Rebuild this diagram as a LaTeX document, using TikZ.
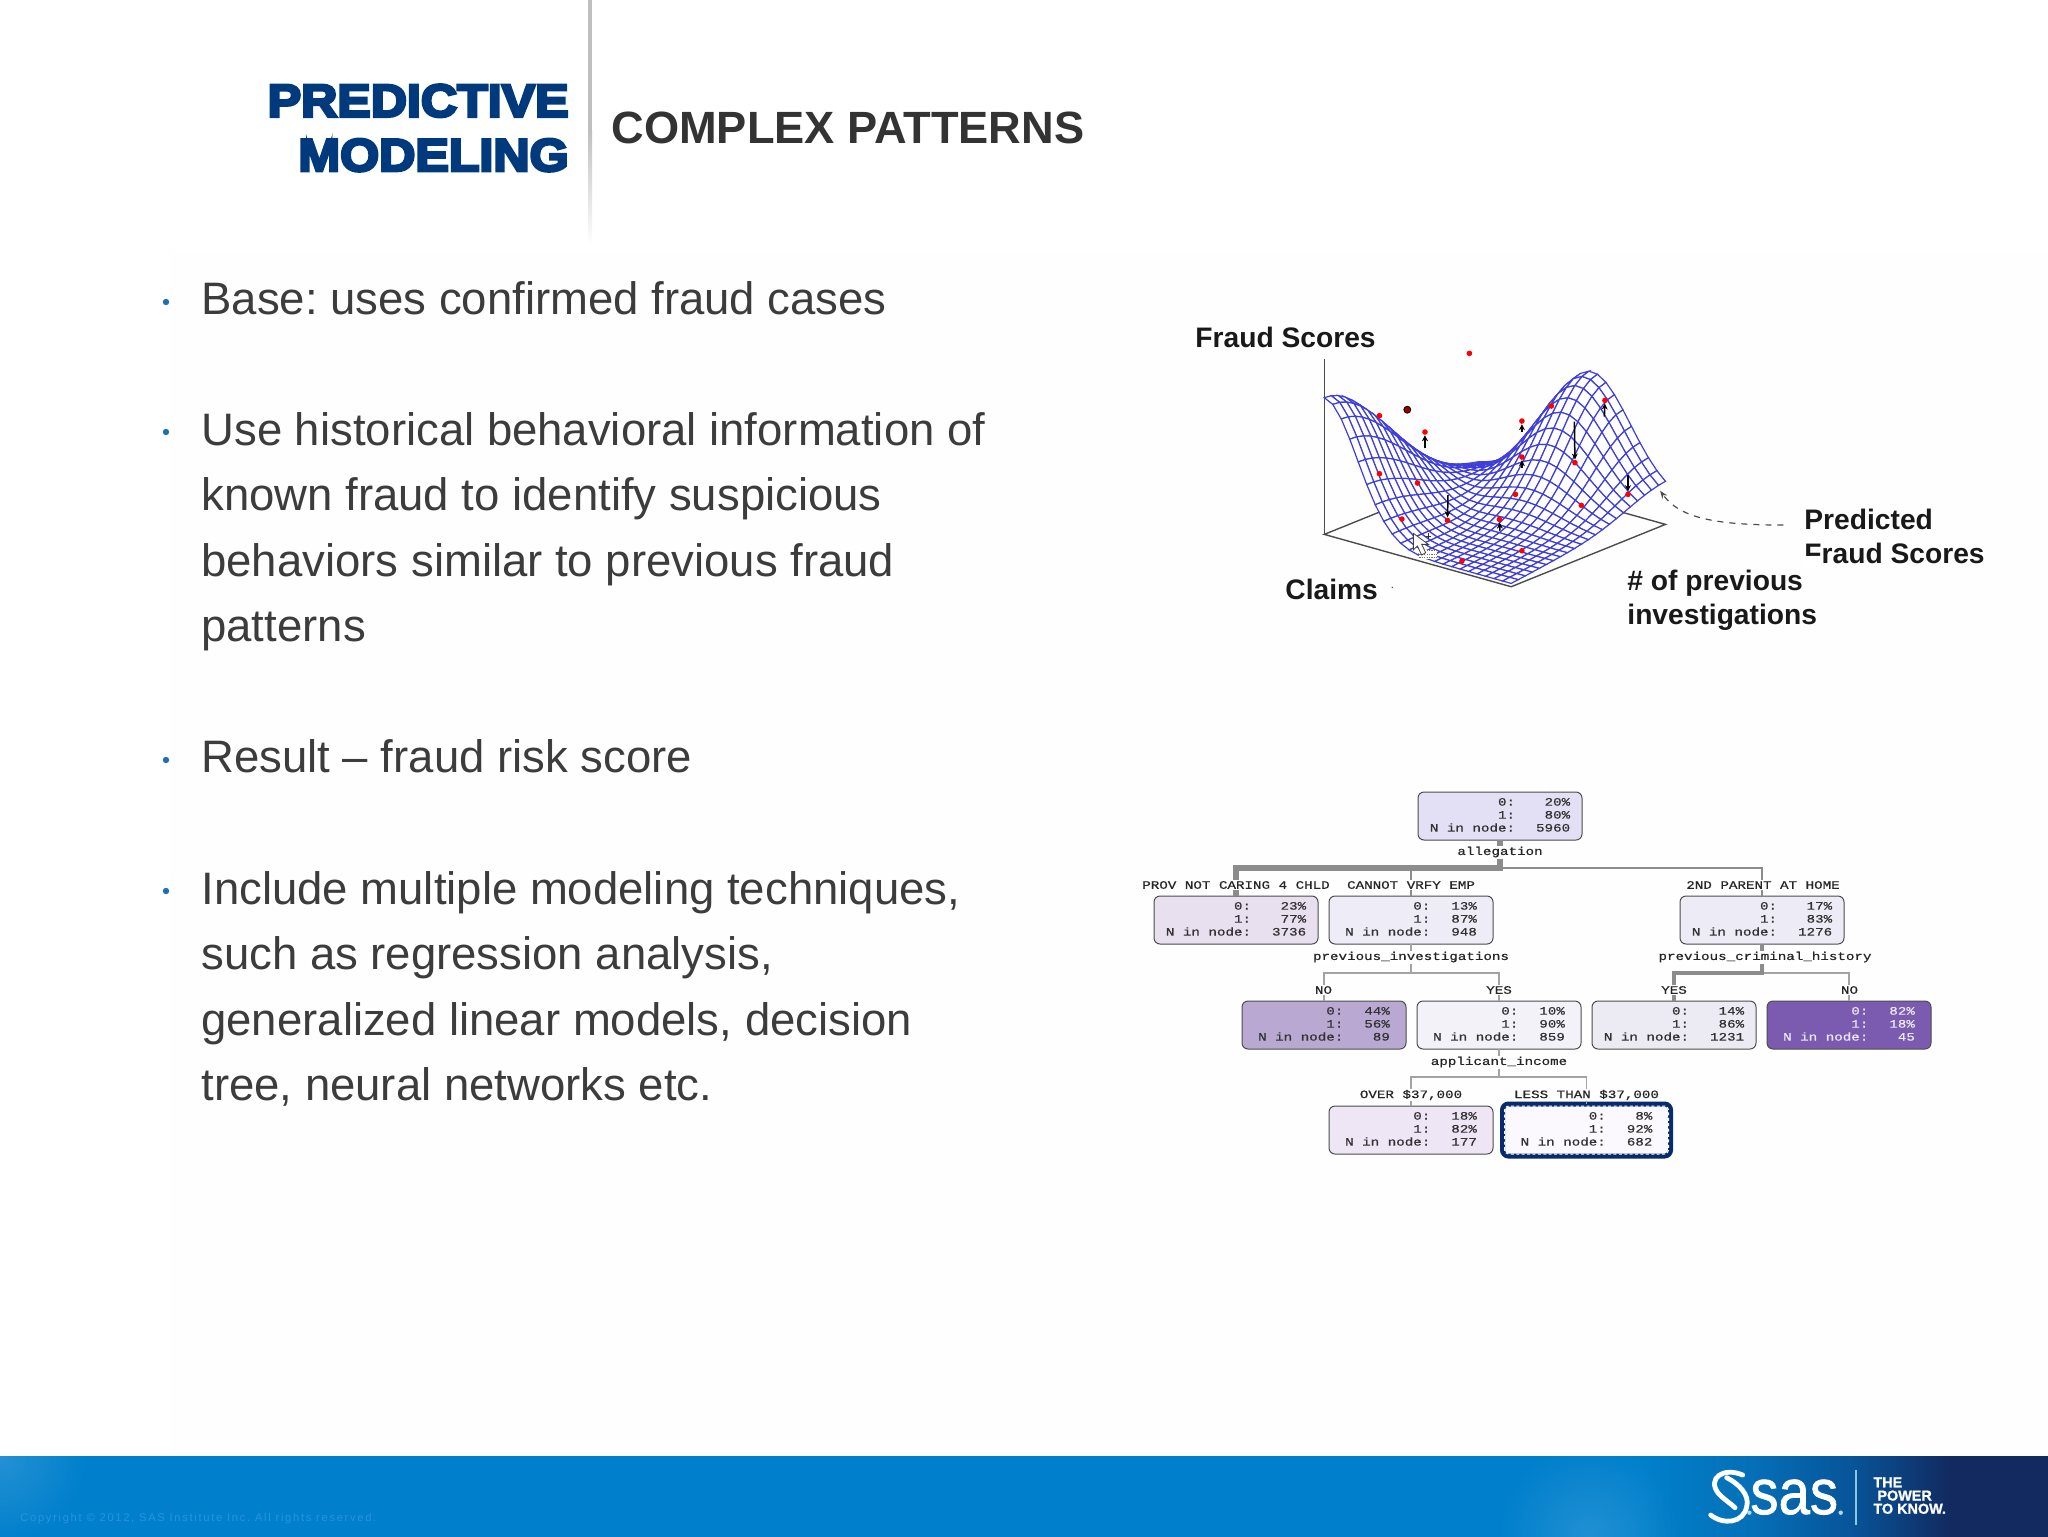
\documentclass[tikz,border=0pt]{standalone}
\usepackage{fontspec}
\usepackage{graphicx}
\setmainfont{Liberation Sans}
\setmonofont[FakeBold=0.5]{Liberation Mono}
\newfontfamily\headfont[UprightFont=* Bold,FakeBold=6,FakeStretch=1.09]{Liberation Sans}
\newfontfamily\tagfont[UprightFont=* Bold,FakeBold=1.2]{Liberation Sans}
\newfontfamily\logofont[FakeBold=1.2]{Liberation Sans}
\newfontfamily\copyfont[LetterSpace=15]{Liberation Sans}
\usetikzlibrary{calc,arrows.meta,positioning,fadings}
\definecolor{navytitle}{HTML}{003A7D}
\definecolor{bodygrey}{HTML}{3C3C3C}
\definecolor{bulletblue}{HTML}{1F6FB5}
\definecolor{meshblue}{HTML}{3E3EDC}
\definecolor{baseblue}{HTML}{0080CC}
\definecolor{midblue}{HTML}{0570B8}
\definecolor{deepblue}{HTML}{07559A}
\definecolor{darkblue}{HTML}{122A60}
\definecolor{edgegrey}{HTML}{8C8C8C}
\definecolor{copyblue}{HTML}{2A92DE}
\definecolor{lessnavy}{HTML}{0A2A6E}
\definecolor{rootfill}{HTML}{E3DFF4}
\definecolor{provfill}{HTML}{E8DFEF}
\definecolor{vrfyfill}{HTML}{EEEDF7}
\definecolor{parentfill}{HTML}{EDECF6}
\definecolor{nofill}{HTML}{B9A9D2}
\definecolor{yesfill}{HTML}{F3F2F9}
\definecolor{yeshistfill}{HTML}{ECEBF4}
\definecolor{nohistfill}{HTML}{7B5BB0}
\definecolor{overfill}{HTML}{EEE5F5}
\definecolor{lessfill}{HTML}{FBF9FE}
\pgfdeclarehorizontalshading{footerbar}{100bp}{color(0bp)=(baseblue); color(65bp)=(baseblue); color(67.7bp)=(midblue); color(70.15bp)=(deepblue); color(72.6bp)=(darkblue); color(100bp)=(darkblue)}
\tikzfading[name=glowfade, inner color=transparent!0, outer color=transparent!100]
\newcommand{\nodestats}[3]{\scalebox{1}[.8]{\begin{tabular}{@{}r@{\hspace{10.5pt}}r@{}}0: & #1\\ 1: & #2\\ N in node: & #3\end{tabular}}}
\newcommand{\edgetext}[1]{\scalebox{1}[.8]{#1}}
\frenchspacing
\begin{document}
\begin{tikzpicture}[
		x=0.5pt, y=-0.5pt,
		every node/.style={font=\fontsize{22.75}{32.75}\selectfont},
		bodytext/.style={anchor=north west, inner sep=0pt, align=left, text=bodygrey},
		bulletdot/.style={circle, fill=bulletblue, inner sep=0pt, minimum size=3.2pt},
		axislabel/.style={font=\fontsize{14.1}{17}\selectfont\bfseries, anchor=west, inner sep=0pt, align=left, text=black!90},
		leafbox/.style={rectangle, rounded corners=3pt, minimum width=82pt, minimum height=24pt, inner sep=0pt, outer sep=0pt, draw=black!70, line width=0.5pt, font=\fontsize{7.1}{8.1}\selectfont\ttfamily, text=black!80},
		edgelabel/.style={font=\fontsize{7.1}{9}\selectfont\ttfamily, fill=white, inner sep=0.6pt, text=black!85},
		edgethin/.style={draw=edgegrey!80, line width=0.6pt},
		edgemid/.style={draw=edgegrey, line width=1.1pt},
		edgethick/.style={draw=edgegrey, line width=2.8pt},
		reddot/.style={circle, fill=red, inner sep=0pt, minimum size=2.8pt},
		errarrow/.style={-{Stealth[length=3pt,width=3pt]}, line width=0.75pt, black}
	]
	\useasboundingbox (0,0) rectangle (2048,1536);
	\fill[white] (0,0) rectangle (2048,1536);
	\fill[black!0.5] (170,250) rectangle (2048,1456);

	% Header
	\fill[black!25] (588,0) rectangle (592,130);
	\shade[top color=black!25, bottom color=white] (588,130) rectangle (592,245);
	\node (predictive) [anchor=east, inner sep=0pt, align=right, text=navytitle, font=\fontsize{23}{27.2}\selectfont\headfont] at (569,128) {PREDICTIVE\\MODELING};
	\node (complex) [anchor=west, inner sep=0pt, text=black!80, font=\fontsize{22.6}{26}\selectfont\bfseries] at (611,128) {COMPLEX PATTERNS};

	% Bullets
	\node (dotbase) [bulletdot] at (166,302) {};
	\node (dotuse) [bulletdot] at (166,432) {};
	\node (dotresult) [bulletdot] at (166,760) {};
	\node (dotinclude) [bulletdot] at (166,891) {};
	\node (base) [bodytext] at (201,281) {Base: uses confirmed fraud cases};
	\node (history) [bodytext] at (201,412) {Use historical behavioral information of\\known fraud to identify suspicious\\behaviors similar to previous fraud\\patterns};
	\node (result) [bodytext] at (201,739) {Result -- fraud risk score};
	\node (include) [bodytext] at (201,871) {Include multiple modeling techniques,\\such as regression analysis,\\generalized linear models, decision\\tree, neural networks etc.};

	% Surface plot
	\begin{scope}[shift={(1170,300)}, x=0.2678pt, y=-0.1667pt]
		\coordinate (axistop) at (288,178);
		\coordinate (cornerL) at (288,703);
		\coordinate (cornerF) at (637,860);
		\coordinate (cornerR) at (925,673);
		\coordinate (cornerB) at (576,516);
		\draw[black!70, line width=0.7pt] (axistop) -- (cornerL);
		\draw[black!70, line width=0.7pt] (cornerL) -- (cornerF) -- (cornerR) -- (cornerB) -- cycle;
		\foreach \i in {0,...,22} {
			\foreach \j in {0,...,22} {
				\pgfmathsetmacro{\u}{\i/22}
				\pgfmathsetmacro{\v}{\j/22}
				\pgfmathsetmacro{\hgt}{10+60*\u*\v+400*exp(-(\u/0.25)^2-(\v/0.55)^2)+350*exp(-((\u-0.6)/0.3)^2-((\v-1)/0.35)^2)}
				\coordinate (m-\i-\j) at ({288+349*\u+288*\v},{703+157*\u-187*\v-\hgt});
			}
		}
		\foreach \i [evaluate=\i as \ii using int(\i+1)] in {0,...,21} {
			\foreach \j [evaluate=\j as \jj using int(\j-1)] in {22,21,...,1} {
				\draw[meshblue, fill=white, line width=0.6pt] (m-\i-\j) -- (m-\ii-\j) -- (m-\ii-\jj) -- (m-\i-\jj) -- cycle;
			}
		}
		% Observed points
		\foreach \px/\py [count=\n] in {559/160,391/347,476/396,657/363,712/318,812/301,657/471,756/488,391/521,462/549,645/583,768/616,855/583,433/657,518/661,615/658,657/752,545/783} {
			\node (obs\n) [reddot] at (\px,\py) {};
		}
		\node (darkobs) [circle, fill=red!60!black, draw=black, line width=0.4pt, inner sep=0pt, minimum size=3.5pt] at (443,329) {};
		% Residual arrows
		\coordinate (tailA) at (476,445); \draw[errarrow] (tailA) -- (obs3);
		\coordinate (tailB) at (657,397); \draw[errarrow] (tailB) -- (obs4);
		\coordinate (tailC) at (657,505); \draw[errarrow] (tailC) -- (obs7);
		\coordinate (tailD) at (755,365); \draw[errarrow] (tailD) -- (obs8);
		\coordinate (tailE) at (811,350); \draw[errarrow] (tailE) -- (obs6);
		\coordinate (tailF) at (855,525); \draw[errarrow] (tailF) -- (obs13);
		\coordinate (tailG) at (519,585); \draw[errarrow] (tailG) -- (obs15);
		\coordinate (tailH) at (616,692); \draw[errarrow] (tailH) -- (obs16);
		% Predicted pointer
		\coordinate (predtail) at (1145,675);
		\coordinate (predtip) at (915,572);
		\draw[black!70, dashed, line width=0.6pt, -{Stealth[length=4pt,width=3pt]}] (predtail) .. controls (1010,675) and (950,650) .. (predtip);
		\fill[black!70] (415,862) circle (0.4pt);
	\end{scope}

	% Cursor
	\begin{scope}[shift={(1360,500)}, x=0.1667pt, y=-0.1667pt]
		\fill[white] (178,150) rectangle (232,178);
		\draw[black!55, line width=0.5pt, dash pattern=on 0.6pt off 0.6pt] (178,152) -- (232,152) (178,162) -- (232,162) (178,172) -- (232,172);
		\draw[fill=white, draw=black!75, line width=0.4pt] (160,100) -- (160,150) -- (172,138) -- (185,165) -- (197,158) -- (185,133) -- (205,133) -- cycle;
		\draw[black!80, line width=0.4pt] (197,108) -- (213,108) (205,100) -- (205,116);
	\end{scope}

	\node (fraudscores) [axislabel] at (1195,337) {Fraud Scores};
	\node (claims) [axislabel] at (1285,589) {Claims};
	\node (investigations) [axislabel] at (1627,600) {\# of previous\\investigations};
	\node (predicted) [axislabel] at (1804,536) {Predicted\\Fraud Scores};
	\fill[white] (1802,556) rectangle (1823,568);

	% Tree nodes
	\node (rootbox) [leafbox, fill=rootfill] at (1500,816) {\nodestats{20\%}{80\%}{5960}};
	\node (provbox) [leafbox, fill=provfill] at (1236,920) {\nodestats{23\%}{77\%}{3736}};
	\node (vrfybox) [leafbox, fill=vrfyfill, right=5.5pt of provbox] {\nodestats{13\%}{87\%}{948}};
	\node (parentbox) [leafbox, fill=parentfill] at (1762,920) {\nodestats{17\%}{83\%}{1276}};
	\node (nobox) [leafbox, fill=nofill] at (1324,1025) {\nodestats{44\%}{56\%}{89}};
	\node (yesbox) [leafbox, fill=yesfill, right=5.5pt of nobox] {\nodestats{10\%}{90\%}{859}};
	\node (yeshistbox) [leafbox, fill=yeshistfill, right=5.5pt of yesbox] {\nodestats{14\%}{86\%}{1231}};
	\node (nohistbox) [leafbox, fill=nohistfill, text=white!85!nohistfill, right=5.5pt of yeshistbox] {\nodestats{82\%}{18\%}{45}};
	\node (overbox) [leafbox, fill=overfill] at (1411,1130) {\nodestats{18\%}{82\%}{177}};
	\node (lessbox) [leafbox, fill=lessfill, draw=lessnavy, line width=2.5pt, minimum width=84pt, minimum height=26pt] at (1586.5,1130) {\nodestats{8\%}{92\%}{682}};
	\draw[white, line width=0.5pt, dash pattern=on 1.5pt off 1.2pt, rounded corners=2pt] ($(lessbox.south west)+(2,-2)$) rectangle ($(lessbox.north east)+(-2,2)$);

	% Connections
	\coordinate (allegbar) at (0,868);
	\coordinate (invbar) at (0,973);
	\coordinate (incomebar) at (0,1077);
	\draw[edgemid] (rootbox.south) -- (rootbox.south |- allegbar) -| (parentbox.north);
	\draw[edgemid] (vrfybox.north) -- (vrfybox.north |- allegbar);
	\draw[edgethick] (rootbox.south) -- (rootbox.south |- allegbar) -| (provbox.north);
	\draw[edgethin] (vrfybox.south) -- (vrfybox.south |- invbar) -| (nobox.north);
	\draw[edgethin] (vrfybox.south |- invbar) -| (yesbox.north);
	\draw[edgethin] (parentbox.south |- invbar) -| (nohistbox.north);
	\draw[edgemid, line width=1.6pt] (parentbox.south) -- (parentbox.south |- invbar) -| (yeshistbox.north);
	\draw[edgethin] (yesbox.south) -- (yesbox.south |- incomebar) -| (overbox.north);
	\draw[edgethin] (yesbox.south |- incomebar) -| (lessbox.north);

	% Labels on the connections
	\node (allegation) [edgelabel] at (1500,852) {\edgetext{allegation}};
	\node (provlabel) [edgelabel] at (1236,885) {\edgetext{PROV NOT CARING 4 CHLD}};
	\node (vrfylabel) [edgelabel] at (1411,885) {\edgetext{CANNOT VRFY EMP}};
	\node (parentlabel) [edgelabel] at (1763,885) {\edgetext{2ND PARENT AT HOME}};
	\node (invlabel) [edgelabel] at (1411,957) {\edgetext{previous\_investigations}};
	\node (histlabel) [edgelabel] at (1765,957) {\edgetext{previous\_criminal\_history}};
	\node (nolabel) [edgelabel] at (1323.5,990) {\edgetext{NO}};
	\node (yeslabel) [edgelabel] at (1499,990) {\edgetext{YES}};
	\node (yeshistlabel) [edgelabel] at (1674,990) {\edgetext{YES}};
	\node (nohistlabel) [edgelabel] at (1849.5,990) {\edgetext{NO}};
	\node (incomelabel) [edgelabel] at (1499,1062) {\edgetext{applicant\_income}};
	\node (overlabel) [edgelabel] at (1411,1095) {\edgetext{OVER \$37,000}};
	\node (lesslabel) [edgelabel] at (1586.5,1095) {\edgetext{LESS THAN \$37,000}};

	% Footer
	\shade[shading=footerbar] (0,1456) rectangle (2048,1536);
	\begin{scope}
		\clip (0,1456) rectangle (2048,1536);
		\fill[white, opacity=0.14, path fading=glowfade] (0,1456) circle (85);
		\fill[white, opacity=0.13, path fading=glowfade] (1590,1536) circle (90);
	\end{scope}
	\node (copyright) [anchor=west, inner sep=0pt, text=copyblue, font=\fontsize{5.6}{7}\selectfont\copyfont] at (20,1519) {Copyright © 2012, SAS Institute Inc. All rights reserved.};

	% Logo
	\begin{scope}[shift={(1700,1465)}, x=0.1667pt, y=-0.1667pt]
		\draw[white, line width=2.4pt, line cap=round] (128,30) .. controls (70,5) and (20,40) .. (55,85) .. controls (68,100) and (85,110) .. (105,128);
		\draw[white, line width=2.4pt, line cap=round] (80,38) .. controls (115,55) and (150,90) .. (140,125) .. controls (130,175) and (70,180) .. (32,150);
		\fill[white!70!baseblue] (148,143) circle (1.1pt) (422,143) circle (1.1pt);
	\end{scope}
	\node (saslogo) [anchor=base west, inner sep=0pt, text=white, font=\fontsize{32}{32}\selectfont\logofont] at (1750,1514) {\scalebox{.88}[1]{sas}};
	\coordinate (dividertop) at (1856,1470);
	\coordinate (dividerend) at (1856,1525);
	\draw[white!55!baseblue, line width=0.6pt] (dividertop) -- (dividerend);
	\node (slogan) [anchor=north west, inner sep=0pt, align=left, text=white, font=\fontsize{7.2}{6.6}\selectfont\tagfont] at (1873,1477) {THE\\\hspace{2pt}POWER\\TO KNOW.};
\end{tikzpicture}
\end{document}
